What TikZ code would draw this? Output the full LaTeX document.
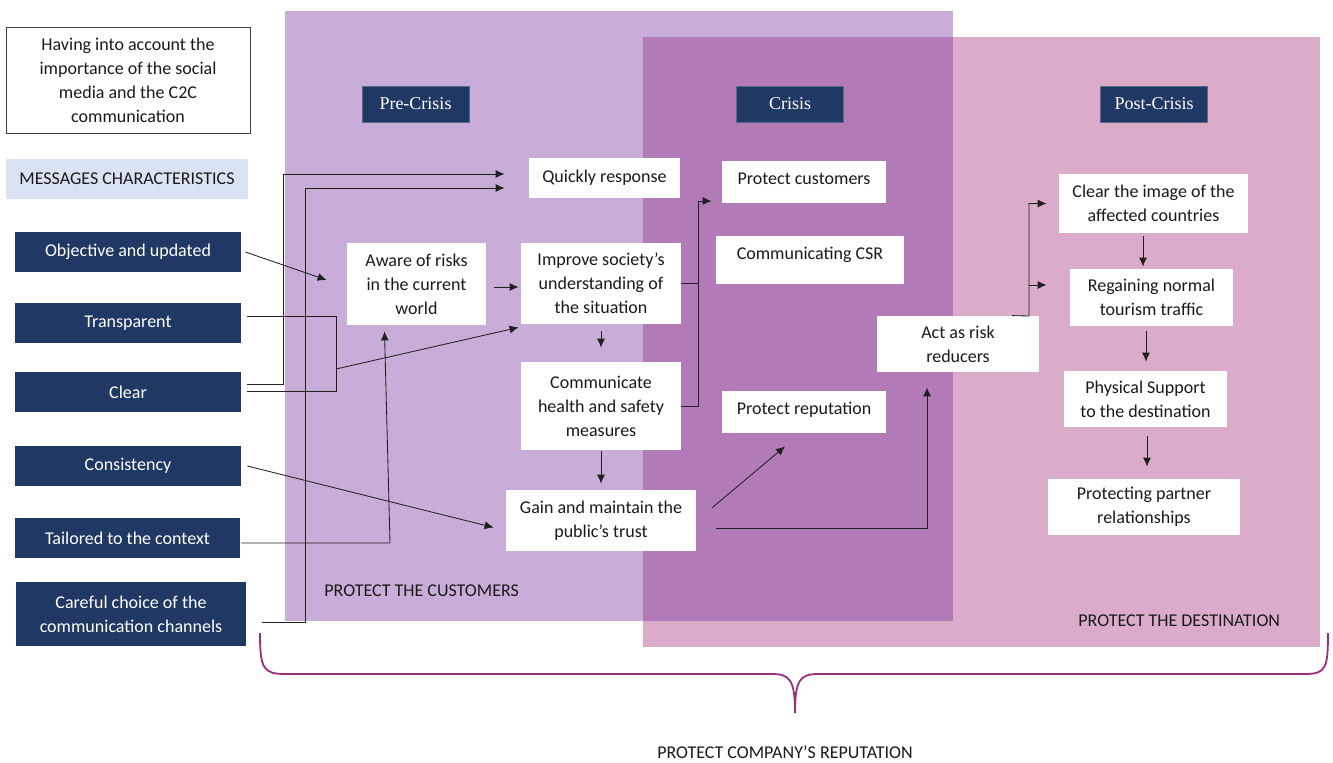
\documentclass[tikz,border=0pt]{standalone}
\usepackage{fontspec}
\setmainfont{Carlito}
\newfontfamily\stagefamily{Liberation Serif}
\usetikzlibrary{arrows.meta}
\definecolor{prec}{HTML}{C7ADD8}
\definecolor{postc}{HTML}{DAACC9}
\definecolor{overc}{HTML}{B27BB8}
\definecolor{navy}{HTML}{1F3864}
\definecolor{msgbg}{HTML}{DAE3F3}
\definecolor{txt}{HTML}{1A1A1A}
\definecolor{ctxborder}{HTML}{404040}
\definecolor{bracec}{HTML}{9C2D7E}
\definecolor{lnc}{HTML}{202020}
\newcommand\dgmfont{\fontsize{9}{12}\selectfont}
\newcommand\stgfont{\stagefamily\fontsize{9}{11}\selectfont}
\begin{document}
\begin{tikzpicture}[x=0.5pt,y=-0.5pt,
  wbox/.style={fill=white, text=txt, font=\dgmfont, align=center, inner sep=0pt},
  nbox/.style={fill=navy, text=white, font=\dgmfont, align=center, inner sep=0pt},
  stagebox/.style={fill=navy, draw=navy!75!white, line width=0.3pt, text=white, font=\stgfont, inner sep=0pt, minimum width=53.5pt, minimum height=18pt},
  conn/.style={draw=lnc, line width=0.42pt},
  arr/.style={conn, -{Latex[length=4.5pt,width=4pt]}},
  lbl/.style={text=txt, font=\dgmfont, inner sep=0pt},
  bracepath/.style={draw=bracec, line width=0.9pt}
]
\useasboundingbox (0,0) rectangle (1333,762);
\fill[white] (0,0) rectangle (1333,762);
% background regions
\fill[prec] (285,11) rectangle (953,621);
\fill[postc] (643,37) rectangle (1320,647);
\fill[overc] (643,37) rectangle (953,621);

% left column
\node[wbox, draw=ctxborder, line width=0.5pt, minimum width=122pt, minimum height=53pt] (ctx) at (128,80)
  {Having into account the\\importance of the social\\media and the C2C\\communication};
\node[fill=msgbg, text=txt, font=\dgmfont, inner sep=0pt, minimum width=121pt, minimum height=20pt] (msg) at (127,179) {MESSAGES CHARACTERISTICS};
\node[nbox, minimum width=113pt, minimum height=20pt] (obj) at (128,252) {Objective and updated};
\node[nbox, minimum width=113pt, minimum height=20pt] (trans) at (128,323) {Transparent};
\node[nbox, minimum width=113pt, minimum height=20pt] (clear) at (128,392) {Clear};
\node[nbox, minimum width=113pt, minimum height=20pt] (cons) at (128,466) {Consistency};
\node[nbox, minimum width=112.5pt, minimum height=20pt] (tail) at (127.5,538) {Tailored to the context};
\node[nbox, minimum width=115pt, minimum height=32pt] (care) at (131,614) {Careful choice of the\\communication channels};

% stage labels
\node[stagebox] (pre) at (415.5,104) {Pre-Crisis};
\node[stagebox] (cri) at (790,104) {Crisis};
\node[stagebox] (post) at (1154,104) {Post-Crisis};

% pre-crisis boxes
\node[wbox, minimum width=69.5pt, minimum height=41pt] (aware) at (416.5,284) {Aware of risks\\in the current\\world};
\node[wbox, minimum width=75.5pt, minimum height=20pt] (quick) at (604.5,178) {Quickly response};
\node[wbox, minimum width=80pt, minimum height=40.5pt] (improve) at (601,283.5) {Improve society’s\\understanding of\\the situation};
\node[wbox, minimum width=80pt, minimum height=44pt] (comm) at (601,406) {Communicate\\health and safety\\measures};
\node[wbox, minimum width=95pt, minimum height=30.5pt] (gain) at (601,520.5) {Gain and maintain the\\public's trust};

% crisis boxes
\node[wbox, minimum width=82pt, minimum height=21pt, text height=6.5pt, text depth=4.5pt] (pcust) at (804,182) {Protect customers};
\node[wbox, minimum width=94pt, minimum height=24pt, text height=6.5pt, text depth=7.5pt] (csr) at (810,260) {Communicating CSR};
\node[wbox, minimum width=82pt, minimum height=21pt, text height=6.5pt, text depth=4.5pt] (prep) at (804,412) {Protect reputation};
\node[wbox, minimum width=81pt, minimum height=28pt] (act) at (958,344) {Act as risk\\reducers};

% post-crisis boxes
\node[wbox, minimum width=94.5pt, minimum height=29.5pt] (climg) at (1153.5,203.5) {Clear the image of the\\affected countries};
\node[wbox, minimum width=81.5pt, minimum height=28.5pt] (regain) at (1151.5,297.5) {Regaining normal\\tourism traffic};
\node[wbox, minimum width=81.5pt, minimum height=28pt] (phys) at (1145.5,399) {Physical Support\\to the destination};
\node[wbox, minimum width=96pt, minimum height=28pt] (protp) at (1144,507) {Protecting partner\\relationships};

% section labels
\node[lbl, anchor=west] (pcustlbl) at (324,591) {PROTECT THE CUSTOMERS};
\node[lbl, anchor=west] (pdestlbl) at (1078,621) {PROTECT THE DESTINATION};
\node[lbl] (prepu) at (785,752) {PROTECT COMPANY’S REPUTATION};

% helper coordinates
\coordinate (tjoin) at (336,369);
\coordinate (ajoin) at (1029,285);

% connectors from message characteristics
\draw[arr] ([shift={(4,0)}]obj.east) -- ([shift={(-20,-4)}]aware.west);
\draw[conn] ([shift={(6,-7)}]trans.east) -- (336,316) -- (336,391) -- ([shift={(6,-1)}]clear.east);
\draw[arr] (tjoin) -- ([shift={(-2,3)}]improve.south west);
\draw[arr] ([shift={(6,-8)}]clear.east) -| (283,174) -- ([shift={(-24,-4)}]quick.west);
\draw[arr] ([shift={(16,8)}]care.east) -| (305,188) -- ([shift={(-24,10)}]quick.west);
\draw[arr] ([shift={(1,5)}]tail.east) -- (390,543) -- ([shift={(-32,6)}]aware.south);
\draw[arr] ([shift={(6,0)}]cons.east) -- ([shift={(-12,7)}]gain.west);

% pre-crisis flow
\draw[arr] ([shift={(8,3)}]aware.east) -- ([shift={(-2,3.5)}]improve.west);
\draw[arr] ([shift={(0,7)}]improve.south) -- ([shift={(0,-14)}]comm.north);
\draw[arr] ([shift={(0,1)}]comm.south) -- ([shift={(0,-6)}]gain.north);
\draw[conn] (improve.east) -- ++(17,0);
\draw[arr] (comm.east) -- ++(17,0) |- ([shift={(-10,19)}]pcust.west);
\draw[arr] ([shift={(16,-13)}]gain.east) -- ([shift={(-19,13)}]prep.south);
\draw[arr] ([shift={(20,7.5)}]gain.east) -| ([shift={(-31,15)}]act.south);

% post-crisis flow
\draw[arr] ([shift={(54,0)}]act.north) -- (1029,316) |- ([shift={(-12,0)}]climg.west);
\draw[arr] (ajoin) -- ([shift={(-23,-12.5)}]regain.west);
\draw[arr] ([shift={(-10.5,3)}]climg.south) -- ([shift={(-8.5,-2)}]regain.north);
\draw[arr] ([shift={(-5.5,5)}]regain.south) -- ([shift={(0.5,-9)}]phys.north);
\draw[arr] ([shift={(1.5,9)}]phys.south) -- ([shift={(3,-12)}]protp.north);

% brace
\draw[bracepath] (260,633) .. controls (260,668) and (263,674) .. (285,674) -- (772,674)
  .. controls (790,674) and (795,680) .. (795,713);
\draw[bracepath] (795,713) .. controls (795,680) and (800,674) .. (818,674) -- (1305,674)
  .. controls (1326,674) and (1328,668) .. (1328,633);
\end{tikzpicture}
\end{document}
